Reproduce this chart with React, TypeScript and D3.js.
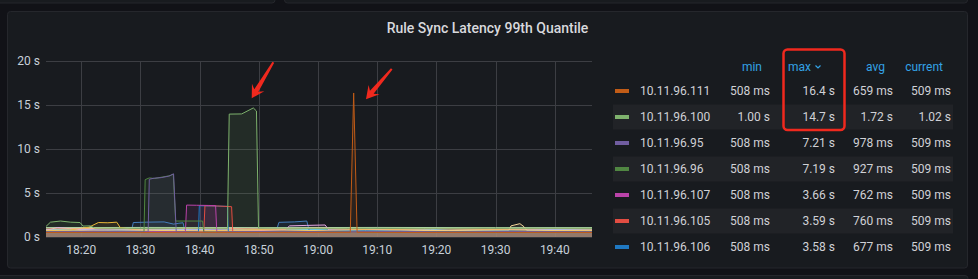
import React from "react";
import * as d3 from "d3";

// ---- data (time in minutes after 18:00, value in seconds) ----
const legendNames = ["10.11.96.111", "10.11.96.100", "10.11.96.95", "10.11.96.96", "10.11.96.107", "10.11.96.105", "10.11.96.106"];
const legendColors = ["#C15C17", "#7EB26D", "#705DA0", "#508642", "#BA43A9", "#E24D42", "#1F78C1"];
const legendMin = ["508 ms", "1.00 s", "508 ms", "508 ms", "508 ms", "508 ms", "508 ms"];
const legendMax = ["16.4 s", "14.7 s", "7.21 s", "7.19 s", "3.66 s", "3.59 s", "3.58 s"];
const legendAvg = ["659 ms", "1.72 s", "978 ms", "927 ms", "762 ms", "760 ms", "677 ms"];
const legendCurrent = ["509 ms", "1.02 s", "509 ms", "509 ms", "509 ms", "509 ms", "509 ms"];
const legendHeaders = ["min", "max", "avg", "current"];

const s111 = [[14, 0.55], [22, 0.56], [30, 0.55], [38, 0.57], [46, 0.55], [55, 0.56], [65.45, 0.56], [66.02, 16.4], [66.6, 0.57], [74, 0.55], [82, 0.56], [90, 0.55], [98, 0.56], [106.3, 0.55]];
const s100 = [[14, 1.2], [14.8, 1.72], [16.5, 1.85], [18.2, 1.72], [19.8, 1.68], [20.3, 1.28], [21.5, 1.3], [22.3, 1.05], [30, 1.02], [38, 1.05], [44.7, 1.02], [45.0, 14.0], [47.1, 14.02], [49.07, 14.7], [49.6, 14.35], [49.95, 1.05], [58, 1.02], [68, 1.03], [78, 1.02], [88, 1.04], [98, 1.02], [106.3, 1.02]];
const s95 = [[14, 0.6], [22, 0.68], [31.3, 0.6], [31.5, 6.6], [32.3, 6.72], [33.5, 6.78], [34.8, 6.95], [35.6, 7.21], [36.05, 0.62], [44, 0.58], [54, 0.7], [64, 0.6], [74, 0.68], [84, 0.58], [94, 0.66], [106.3, 0.6]];
const s96 = [[14, 0.6], [22, 0.58], [30.6, 0.6], [30.8, 6.55], [31.5, 6.75], [32.4, 6.68], [33.7, 6.85], [35.0, 7.0], [35.55, 7.19], [35.95, 1.85], [40.5, 1.85], [40.7, 0.6], [50, 0.58], [60, 0.66], [70, 0.58], [80, 0.64], [90, 0.58], [106.3, 0.6]];
const s107 = [[14, 0.6], [24, 0.66], [37.6, 0.6], [37.8, 3.66], [39.5, 3.64], [41.5, 3.62], [42.7, 3.6], [42.9, 0.62], [52, 0.6], [62, 0.68], [72, 0.6], [82, 0.66], [92, 0.6], [106.3, 0.6]];
const s105 = [[14, 0.55], [26, 0.6], [40.7, 0.56], [40.9, 3.59], [43, 3.56], [45.4, 3.48], [45.6, 0.58], [56, 0.56], [68, 0.62], [80, 0.56], [92, 0.6], [106.3, 0.56]];
const s106 = [[14, 0.62], [26, 0.7], [39.8, 0.62], [39.95, 3.58], [42, 3.56], [44.7, 3.52], [44.85, 0.65], [56, 0.62], [68, 0.74], [80, 0.64], [92, 0.7], [106.3, 0.62]];

// other hosts (not visible in the scrolled legend)
const otherColors = ["#70DBED", "#82B5D8", "#AEA2E0", "#6ED0E0", "#447EBC", "#629E51", "#B7DBAB", "#E5A8E2", "#F29191", "#CCA300", "#EAB839", "#F4D598", "#F9BA8F", "#EF843C"];
const o1 = [[14, 0.9], [22, 0.8], [32, 0.92], [42, 0.82], [52, 0.94], [62, 0.82], [72, 0.9], [82, 0.8], [92, 0.92], [106.3, 0.84]];
const o2 = [[14, 0.8], [24, 0.7], [34, 0.84], [44, 0.68], [54, 0.8], [64, 0.72], [74, 0.86], [84, 0.7], [94, 0.84], [106.3, 0.75]];
const o3 = [[14, 0.72], [20, 0.84], [28, 0.68], [36, 0.8], [46, 0.7], [56, 0.84], [66, 0.68], [76, 0.8], [86, 0.7], [96, 0.84], [106.3, 0.74]];
const o4 = [[14, 0.85], [19, 0.95], [24, 0.74], [29, 0.9], [34, 0.78], [39, 0.95], [44, 0.72], [49, 0.92], [54, 0.8], [59, 0.9], [64, 0.74], [69, 0.95], [74, 0.78], [79, 0.9], [84, 0.72], [89, 0.92], [94, 0.8], [99, 0.9], [106.3, 0.8]];
const o5 = [[14, 0.7], [24, 0.72], [28.5, 0.8], [28.8, 1.68], [31, 1.72], [34, 1.75], [35.6, 1.5], [36.5, 1.6], [37.2, 1.65], [37.5, 0.75], [45, 0.72], [53.0, 0.85], [53.4, 1.7], [56, 1.75], [58.1, 1.85], [58.5, 0.8], [66, 0.72], [76, 0.78], [86, 0.7], [96, 0.76], [106.3, 0.72]];
const o6 = [[14, 0.7], [28, 0.78], [42, 0.68], [56, 0.78], [70, 0.7], [84, 0.8], [98, 0.7], [106.3, 0.72]];
const o7 = [[14, 1.1], [30, 1.12], [50, 1.1], [70, 1.12], [90, 1.1], [106.3, 1.1]];
const o8 = [[14, 0.8], [16, 1.1], [18, 1.0], [20, 0.85], [30, 0.8], [40, 0.84], [50, 0.8], [54.5, 0.9], [55.2, 1.3], [58, 1.35], [61.2, 1.4], [61.8, 0.85], [70, 0.84], [80, 0.8], [90, 0.86], [106.3, 0.82]];
const o9 = [[14, 0.66], [26, 0.74], [38, 0.64], [50, 0.76], [62, 0.66], [74, 0.74], [86, 0.64], [98, 0.74], [106.3, 0.68]];
const o10 = [[14, 0.62], [30, 0.6], [46, 0.68], [60, 0.62], [76, 0.7], [90, 0.64], [106.3, 0.62]];
const o11 = [[14, 0.75], [18, 0.82], [21.3, 1.15], [22.9, 1.68], [24.5, 1.65], [26, 1.72], [26.6, 1.1], [30, 0.8], [40, 0.72], [50, 0.88], [60, 0.76], [70, 0.92], [80, 0.78], [90, 0.88], [100, 0.76], [106.3, 0.8]];
const o12 = [[14, 0.7], [30, 0.74], [50, 0.7], [70, 0.74], [92.2, 0.75], [92.6, 1.3], [94.1, 1.55], [94.8, 1.2], [95.3, 0.75], [106.3, 0.72]];
const o13 = [[14, 0.95], [22, 1.0], [30, 0.92], [40, 1.02], [50, 0.96], [60, 1.04], [65, 0.98], [70, 0.92], [80, 1.0], [90, 0.94], [100, 1.0], [106.3, 0.96]];
const o14 = [[14, 0.58], [30, 0.6], [50, 0.58], [70, 0.6], [90, 0.58], [106.3, 0.6]];

const yTicks = [0, 5, 10, 15, 20];
const timeStart = 14.05;
const timeEnd = 106.28;

// annotation arrows (tail -> tip) in data units
const arrows = [
  { tail: [52.45, 19.9], tip: [48.8, 15.8] },
  { tail: [72.45, 19.15], tip: [68.1, 15.7] },
];

const base = new Date(2021, 0, 1, 18, 0, 0).getTime();
const t = (m: number) => new Date(base + m * 60000);

export default function App() {
  const W = 978, H = 279;
  const plotL = 46, plotR = 592, plotT = 61.3, plotB = 237.3;
  const x = d3.scaleTime().domain([t(timeStart), t(timeEnd)]).range([plotL, plotR]);
  const y = d3.scaleLinear().domain([0, 20]).range([plotB, plotT]);
  const xTicks = x.ticks(d3.timeMinute.every(10) as any);
  const fmt = d3.timeFormat("%H:%M");
  const line = d3.line<number[]>().x(d => x(t(d[0]))).y(d => y(d[1]));
  const area = d3.area<number[]>().x(d => x(t(d[0]))).y0(y(0)).y1(d => y(d[1]));

  const others = [o1, o2, o3, o4, o5, o6, o7, o8, o9, o10, o11, o12, o13, o14];
  const legendSeries = [s111, s100, s95, s96, s107, s105, s106];
  const drawList: { data: number[][]; color: string }[] = [];
  others.forEach((d, i) => drawList.push({ data: d, color: otherColors[i] }));
  for (let i = legendSeries.length - 1; i >= 0; i--) drawList.push({ data: legendSeries[i], color: legendColors[i] });

  const arrowPoly = (a: { tail: number[]; tip: number[] }) => {
    const tx = x(t(a.tail[0])), ty = y(a.tail[1]);
    const px = x(t(a.tip[0])), py = y(a.tip[1]);
    const dx = px - tx, dy = py - ty;
    const len = Math.hypot(dx, dy);
    const ux = dx / len, uy = dy / len;
    const nx = -uy, ny = ux;
    const neckD = len - 9, barbD = len - 12.5;
    const p = (d: number, w: number) => [tx + ux * d + nx * w, ty + uy * d + ny * w];
    const pts = [p(0, 1.0), p(neckD, 2.4), p(barbD, 7.2), [px, py], p(barbD, -7.2), p(neckD, -2.4), p(0, -1.0)];
    return pts.map(q => q.join(",")).join(" ");
  };

  const font = "Roboto, 'Noto Sans', sans-serif";
  const rowY0 = 91, rowH = 26;
  const textColor = "#d0d1d6";
  const headColor = "#33a2e5";
  const valueRight = [770, 835, 893, 951];
  const headRight = [762, 811, 885, 943];

  return (
    <div style={{ position: "fixed", left: 0, top: 0 }}>
      <svg width={W} height={H} style={{ display: "block", background: "#111217" }}>
        <defs>
          <clipPath id="plotclip">
            <rect x={plotL} y={plotT - 5} width={plotR - plotL} height={plotB - plotT + 5} />
          </clipPath>
        </defs>
        {/* neighbouring panels */}
        <rect x={-4} y={-10} width={279} height={13} rx={3} fill="#181b1f" stroke="#25272c" />
        <rect x={284.5} y={-10} width={683} height={13} rx={3} fill="#181b1f" stroke="#25272c" />
        <rect x={-4} y={275.5} width={972} height={20} rx={3} fill="#181b1f" stroke="#25272c" />
        {/* main panel */}
        <rect x={7.5} y={11.5} width={960} height={256.5} rx={3} fill="#181b1f" stroke="#25272c" />
        <text x={487.5} y={28} textAnchor="middle" dominantBaseline="central" fill="#d8d9dd" fontFamily={font} fontSize={14} fontWeight={500}>
          Rule Sync Latency 99th Quantile
        </text>

        {/* grid */}
        {yTicks.map(v => (
          <g key={"y" + v}>
            <line x1={plotL} x2={plotR} y1={Math.round(y(v)) + 0.5} y2={Math.round(y(v)) + 0.5} stroke="#3c3e43" />
            <text x={40} y={y(v)} textAnchor="end" dominantBaseline="central" fill="#c7d0d9" fontFamily={font} fontSize={12}>
              {v + " s"}
            </text>
          </g>
        ))}
        {xTicks.map((d, i) => (
          <g key={"x" + i}>
            <line x1={Math.round(x(d)) + 0.5} x2={Math.round(x(d)) + 0.5} y1={plotT} y2={plotB} stroke="#3c3e43" />
            <text x={x(d)} y={250} textAnchor="middle" dominantBaseline="central" fill="#c7d0d9" fontFamily={font} fontSize={12}>
              {fmt(d)}
            </text>
          </g>
        ))}

        {/* series */}
        <g clipPath="url(#plotclip)">
          {drawList.map((s, i) => (
            <path key={"a" + i} d={area(s.data) || ""} fill={s.color} fillOpacity={0.11} stroke="none" />
          ))}
          {drawList.map((s, i) => (
            <path key={"l" + i} d={line(s.data) || ""} fill="none" stroke={s.color} strokeWidth={1} />
          ))}
        </g>

        {/* legend table */}
        {legendHeaders.map((h, i) => (
          <text key={h} x={headRight[i]} y={67} textAnchor="end" dominantBaseline="central" fill={headColor} fontFamily={font} fontSize={12}>
            {h}
          </text>
        ))}
        <path d="M815.5,65.5 L818,68 L820.5,65.5" fill="none" stroke={headColor} strokeWidth={1.2} />
        {legendNames.map((n, i) => {
          const cy = rowY0 + i * rowH;
          const vals = [legendMin[i], legendMax[i], legendAvg[i], legendCurrent[i]];
          return (
            <g key={n}>
              {i % 2 === 1 && <rect x={613} y={cy - 12.5} width={340} height={25} fill="#212327" />}
              <rect x={615} y={cy - 2} width={14} height={4} fill={legendColors[i]} />
              <text x={640} y={cy} dominantBaseline="central" fill={textColor} fontFamily={font} fontSize={12}>
                {n}
              </text>
              {vals.map((v, j) => (
                <text key={j} x={valueRight[j]} y={cy} textAnchor="end" dominantBaseline="central" fill={textColor} fontFamily={font} fontSize={12}>
                  {v}
                </text>
              ))}
            </g>
          );
        })}

        {/* annotations */}
        <rect x={783.5} y={49.5} width={61} height={80.5} rx={4} fill="none" stroke="#f0291e" strokeWidth={2.5} />
        {arrows.map((a, i) => (
          <polygon key={"ar" + i} points={arrowPoly(a)} fill="#f0291e" />
        ))}
      </svg>
    </div>
  );
}
